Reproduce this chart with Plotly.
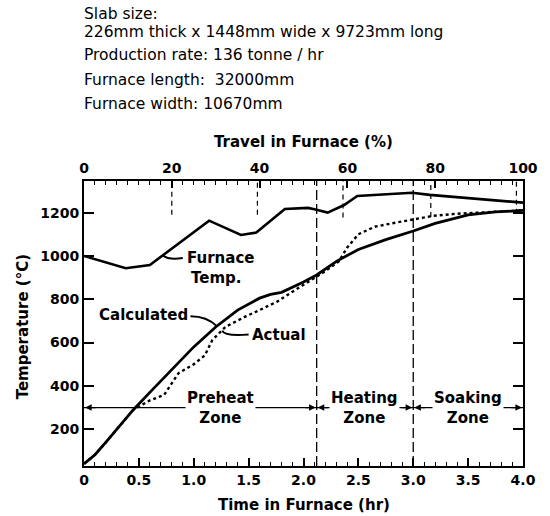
import plotly.graph_objects as go

# ---------------- data ----------------
furnace_hr = [0.0, 0.38, 0.60, 1.14, 1.43, 1.57, 1.83, 2.04, 2.10, 2.22, 2.37, 2.49, 2.99, 3.15, 4.0]
furnace_t = [1000, 943, 958, 1163, 1097, 1108, 1217, 1222, 1216, 1200, 1235, 1277, 1292, 1282, 1246]

calc_hr = [0.0, 0.1, 0.2, 0.3, 0.45, 0.6, 0.8, 1.0, 1.2, 1.4, 1.6, 1.7, 1.8, 1.9, 2.0, 2.12,
           2.3, 2.5, 2.75, 3.0, 3.2, 3.5, 3.75, 4.0]
calc_t = [40, 82, 140, 200, 290, 370, 475, 580, 672, 750, 805, 822, 832, 855, 880, 912,
          975, 1030, 1075, 1115, 1150, 1190, 1203, 1210]

actual_hr = [0.0, 0.1, 0.2, 0.3, 0.45, 0.6, 0.73, 0.86, 1.0, 1.1, 1.17, 1.29, 1.47, 1.6, 1.76,
             1.9, 2.09, 2.2, 2.32, 2.4, 2.5, 2.65, 2.8, 2.97, 3.18, 3.4, 3.6, 3.8, 4.0]
actual_t = [40, 82, 140, 200, 290, 333, 358, 458, 500, 540, 612, 673, 720, 750, 789,
            835, 897, 930, 974, 1040, 1100, 1135, 1150, 1166, 1185, 1195, 1200, 1205, 1210]

zone_bounds = [0.0, 2.12, 3.0, 4.0]
zone_names = ["Preheat<br>Zone", "Heating<br>Zone", "Soaking<br>Zone"]
zone_label_hr = [1.24, 2.56, 3.5]
zone_level = 300

probe_pct = [20, 39.5, 59, 79, 98.5]
probe_end_t = [1190, 1190, 1178, 1180, 1195]

x_tickvals = [0, 0.5, 1.0, 1.5, 2.0, 2.5, 3.0, 3.5, 4.0]
x_ticktext = ["0", "0.5", "1.0", "1.5", "2.0", "2.5", "3.0", "3.5", "4.0"]
pct_tickvals = [0, 20, 40, 60, 80, 100]
y_tickvals = [200, 400, 600, 800, 1000, 1200]

header_lines = ["Slab size:", "226mm thick x 1448mm wide x 9723mm long",
                "Production rate: 136 tonne / hr", "Furnace length:  32000mm",
                "Furnace width: 10670mm"]
header_y = [1.586, 1.523, 1.442, 1.354, 1.270]

FONT = "DejaVu Sans"
Y_RANGE = [30, 1346]

fig = go.Figure()
fig.add_trace(go.Scatter(x=furnace_hr, y=furnace_t, mode="lines",
                         line=dict(color="black", width=2.6), showlegend=False))
fig.add_trace(go.Scatter(x=calc_hr, y=calc_t, mode="lines",
                         line=dict(color="black", width=2.8), showlegend=False))
fig.add_trace(go.Scatter(x=actual_hr, y=actual_t, mode="lines",
                         line=dict(color="black", width=2.4, dash="dot"), showlegend=False))
# dummy trace for the top percentage axis
fig.add_trace(go.Scatter(x=[0, 100], y=[None, None], xaxis="x2", mode="lines",
                         showlegend=False, hoverinfo="skip"))

shapes = []
# zone boundaries (long dashes)
for b in zone_bounds[1:-1]:
    shapes.append(dict(type="line", xref="x", yref="paper", x0=b, x1=b, y0=0, y1=1,
                       line=dict(color="black", width=1.3, dash="10px,4px")))
# probe positions (short dashes from top)
for p, e in zip(probe_pct, probe_end_t):
    shapes.append(dict(type="line", xref="x2", yref="y", x0=p, x1=p, y0=e, y1=Y_RANGE[1],
                       line=dict(color="black", width=1.2, dash="5px,4px")))
# zone line
shapes.append(dict(type="line", xref="x", yref="y", x0=0, x1=4, y0=zone_level, y1=zone_level,
                   line=dict(color="black", width=1.3)))
# leaders for the curve labels
shapes.append(dict(type="path", xref="x", yref="y",
                   path="M 0.72,1002 Q 0.77,980 0.90,990", line=dict(color="black", width=2)))
shapes.append(dict(type="path", xref="x", yref="y",
                   path="M 0.97,722 Q 1.12,722 1.21,676", line=dict(color="black", width=2)))
shapes.append(dict(type="path", xref="x", yref="y",
                   path="M 1.26,655 Q 1.28,628 1.50,637", line=dict(color="black", width=2)))

annotations = []
# header text
for t, yy in zip(header_lines, header_y):
    annotations.append(dict(text=t, xref="paper", yref="paper", x=-0.005, y=yy,
                            xanchor="left", yanchor="middle", showarrow=False,
                            font=dict(family=FONT, size=15.5, color="black")))
# axis titles
annotations.append(dict(text="Travel in Furnace (%)", xref="paper", yref="paper", x=0.5, y=1.137,
                        xanchor="center", yanchor="middle", showarrow=False,
                        font=dict(family=FONT, size=15, color="black", weight="bold")))
annotations.append(dict(text="Time in Furnace (hr)", xref="paper", yref="paper", x=0.5, y=-0.137,
                        xanchor="center", yanchor="middle", showarrow=False,
                        font=dict(family=FONT, size=15, color="black", weight="bold")))
annotations.append(dict(text="Temperature (\u00b0C)", xref="paper", yref="paper", x=-0.139, y=0.49,
                        xanchor="center", yanchor="middle", showarrow=False, textangle=-90,
                        font=dict(family=FONT, size=15, color="black", weight="bold")))
# curve labels
lab_font = dict(family=FONT, size=15, color="black", weight="bold")
annotations.append(dict(text="Furnace", x=0.92, y=991, xanchor="left", yanchor="middle",
                        showarrow=False, font=lab_font))
annotations.append(dict(text="Temp.", x=0.955, y=898, xanchor="left", yanchor="middle",
                        showarrow=False, font=lab_font))
annotations.append(dict(text="Calculated", x=0.965, y=727, xanchor="right", yanchor="middle",
                        showarrow=False, font=lab_font))
annotations.append(dict(text="Actual", x=1.51, y=635, xanchor="left", yanchor="middle",
                        showarrow=False, font=lab_font))
# zone labels with white background to break the line
for name, hx in zip(zone_names, zone_label_hr):
    annotations.append(dict(text=name, x=hx, y=zone_level, xanchor="center", yanchor="middle",
                            showarrow=False, bgcolor="white", borderpad=1, font=lab_font))
# arrow heads at the zone boundaries
for i in range(len(zone_bounds) - 1):
    a, b = zone_bounds[i], zone_bounds[i + 1]
    annotations.append(dict(text="", x=b - 0.01, y=zone_level, ax=b - 0.12, ay=zone_level,
                            axref="x", ayref="y", showarrow=True, arrowhead=2, arrowsize=1,
                            arrowwidth=1.3, arrowcolor="black"))
    annotations.append(dict(text="", x=a + 0.01, y=zone_level, ax=a + 0.12, ay=zone_level,
                            axref="x", ayref="y", showarrow=True, arrowhead=2, arrowsize=1,
                            arrowwidth=1.3, arrowcolor="black"))

axis_font = dict(family=FONT, size=14, color="black", weight="bold")
fig.update_layout(
    width=550, height=516,
    margin=dict(l=84, r=14, t=181, b=50),
    paper_bgcolor="white", plot_bgcolor="white",
    showlegend=False,
    shapes=shapes, annotations=annotations,
    xaxis=dict(range=[0, 4], tickvals=x_tickvals, ticktext=x_ticktext,
               ticks="inside", ticklen=8, tickwidth=1.5, tickcolor="black",
               minor=dict(dtick=0.1, tick0=0, ticks="inside", ticklen=4, tickwidth=1.3,
                          tickcolor="black", showgrid=False),
               showline=True, linecolor="black", linewidth=2, mirror=False,
               showgrid=False, zeroline=False, tickfont=axis_font),
    xaxis2=dict(range=[0, 100], overlaying="x", side="top", anchor="y",
                tickvals=pct_tickvals, ticks="inside", ticklen=7, tickwidth=1.5,
                tickcolor="black",
                minor=dict(dtick=2.5, tick0=0, ticks="inside", ticklen=4, tickwidth=1.3,
                           tickcolor="black", showgrid=False),
                showline=True, linecolor="black", linewidth=2,
                showgrid=False, zeroline=False, tickfont=axis_font),
    yaxis=dict(range=Y_RANGE, tickvals=y_tickvals, ticks="inside", ticklen=10, tickwidth=1.5,
               tickcolor="black", showline=True, linecolor="black", linewidth=2,
               mirror="ticks", showgrid=False, zeroline=False, tickfont=axis_font),
)

fig.write_html("out.html")
